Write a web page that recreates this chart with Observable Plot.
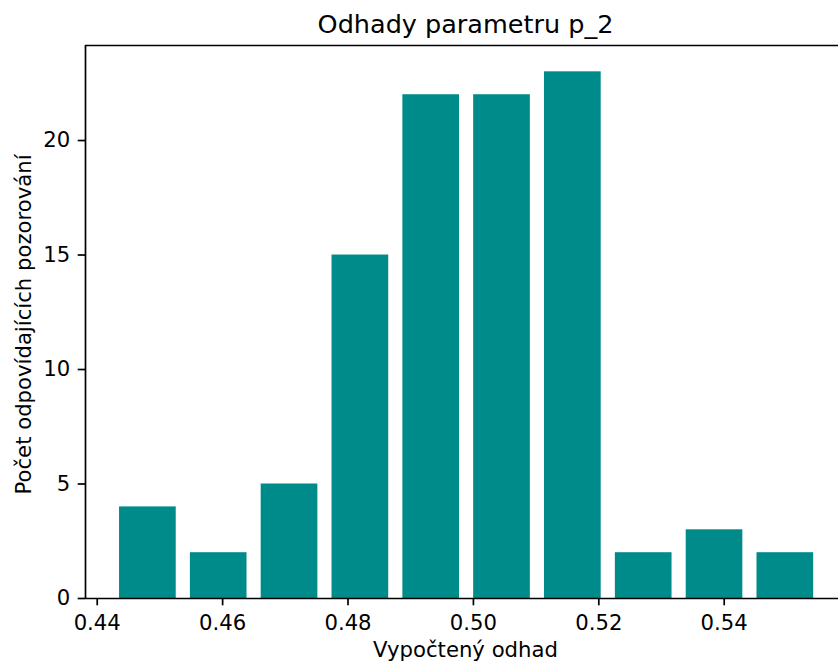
<!DOCTYPE html>
<html>
<head>
<meta charset="utf-8">
<script src="https://cdn.jsdelivr.net/npm/d3@7"></script>
<script src="https://cdn.jsdelivr.net/npm/@observablehq/plot@0.6"></script>
<style>
  body { margin: 0; background: #fff; }
  #chart svg { font-family: "DejaVu Sans", sans-serif; display: block; }
</style>
</head>
<body>
<div id="chart"></div>
<script>
// Histogram bin edges and counts per bin
const binEdges = [0.44243, 0.45373, 0.46502, 0.47632, 0.48762, 0.49891,
                  0.51021, 0.52151, 0.53281, 0.54410, 0.55540];
const counts = [4, 2, 5, 15, 22, 22, 23, 2, 3, 2];
const xTicks = [0.44, 0.46, 0.48, 0.50, 0.52, 0.54];
const yTicks = [0, 5, 10, 15, 20];
const titleText = "Odhady parametru p_2";
const xLabelText = "Vypočtený odhad";
const yLabelText = "Počet odpovídajících pozorování";

const bins = counts.map((c, i) => ({x1: binEdges[i], x2: binEdges[i + 1], count: c}));
const yMax = d3.max(counts) * 1.05;
const xDomain = [0.43813, 0.55823];

const FS = 21.2, TFS = 25.5, LW = 1.7, TS = 7.3;
const plot = Plot.plot({
  width: 838,
  height: 666,
  marginLeft: 85,
  marginRight: 0,
  marginTop: 45,
  marginBottom: 68,
  style: {fontFamily: "DejaVu Sans", fontSize: FS + "px", background: "#fff", color: "#000"},
  x: {domain: xDomain},
  y: {domain: [0, yMax]},
  marks: [
    Plot.rectY(bins, {x1: "x1", x2: "x2", y: "count", fill: "#008b8b", insetLeft: 7.08, insetRight: 7.08}),
    Plot.axisX(xTicks, {tickSize: TS, strokeWidth: LW, tickPadding: 9.2, tickFormat: d3.format(".2f"), fontSize: FS, fill: "#000", label: null}),
    Plot.axisY(yTicks, {tickSize: TS, strokeWidth: LW, tickPadding: 7.9, tickFormat: d3.format("d"), fontSize: FS, fill: "#000", label: null}),
    Plot.ruleY([0], {stroke: "#000", strokeWidth: LW}),
    Plot.ruleY([yMax], {stroke: "#000", strokeWidth: LW}),
    Plot.ruleX([xDomain[0]], {stroke: "#000", strokeWidth: LW}),
    Plot.text([titleText], {text: d => d, frameAnchor: "top", lineAnchor: "bottom", dx: 3.5, dy: -13, fontSize: TFS, fill: "#000"}),
    Plot.text([xLabelText], {text: d => d, frameAnchor: "bottom", lineAnchor: "bottom", dx: 3.5, dy: 58.7, fontSize: FS, fill: "#000"}),
    Plot.text([yLabelText], {text: d => d, frameAnchor: "left", textAnchor: "middle", lineAnchor: "bottom", rotate: -90, dx: -54.5, dy: 2.5, fontSize: FS, fill: "#000"})
  ]
});
document.getElementById("chart").appendChild(plot);
</script>
</body>
</html>
